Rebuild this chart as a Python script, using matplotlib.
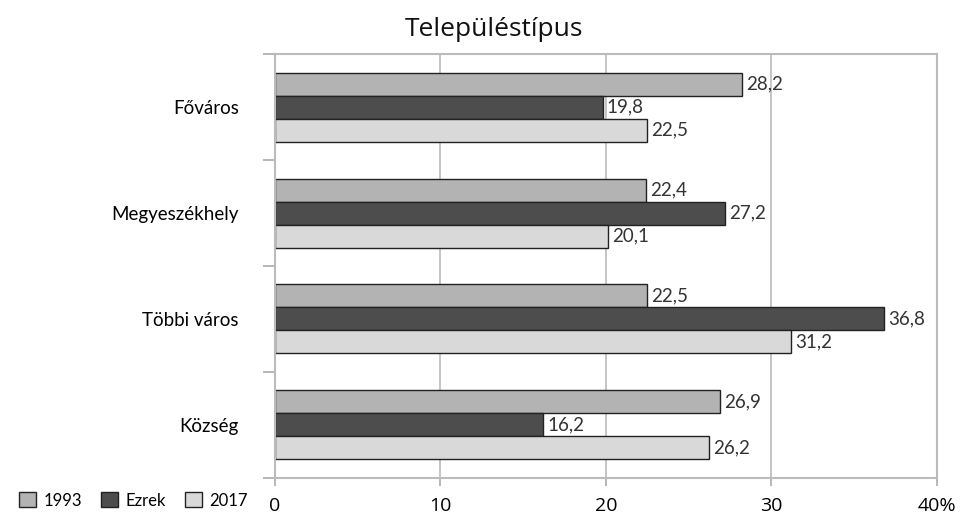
import matplotlib
matplotlib.use("Agg")
import matplotlib.pyplot as plt
import numpy as np
from matplotlib.patches import Patch

categories = ["Főváros", "Megyeszékhely", "Többi város", "Község"]
series_names = ["1993", "Ezrek", "2017"]
v1993 = [28.2, 22.4, 22.5, 26.9]
vezrek = [19.8, 27.2, 36.8, 16.2]
v2017 = [22.5, 20.1, 31.2, 26.2]
xticks = [0, 10, 20, 30, 40]
xticklabels = ["0", "10", "20", "30", "40%"]
colors = ["#b3b3b3", "#4d4d4d", "#d9d9d9"]

plt.rcParams['font.family'] = ['Lato', 'DejaVu Sans']

fig = plt.figure(figsize=(9.68, 5.16), dpi=100)
ax = fig.add_axes([0.284, 0.074, 0.684, 0.821])

n = len(categories)
y = np.arange(n)
bh = 0.217
series = [v1993, vezrek, v2017]
for i, (vals, col, name) in enumerate(zip(series, colors, series_names)):
    pos = y + (i - 1) * bh
    bars = ax.barh(pos, vals, height=bh, color=col, edgecolor="#222222", linewidth=1.0, label=name)
    for b, v in zip(bars, vals):
        ax.text(b.get_width() + 0.25, b.get_y() + b.get_height() / 2,
                f"{v:.1f}".replace(".", ","), va="center", ha="left",
                fontsize=13.5, color="#333333")

ax.set_ylim(n - 0.5, -0.5)
ax.set_xlim(0, 40)
ax.set_yticks(np.arange(-0.5, n, 1.0), minor=False)
ax.set_yticklabels([])
ax.set_yticks(y, minor=True)
ax.set_yticklabels(categories, minor=True, fontsize=13.5)
ax.tick_params(axis="y", which="minor", length=0, pad=26)
ax.tick_params(axis="y", which="major", length=9, color="#aaaaaa", width=1.2)
ax.set_xticks(xticks)
ax.set_xticklabels(xticklabels, fontsize=14, fontfamily=["Open Sans", "DejaVu Sans"])
ax.tick_params(axis="x", length=6, color="#aaaaaa", width=1.2, pad=8)
ax.xaxis.grid(True, color="#bbbbbb", linewidth=1.2)
ax.set_axisbelow(True)
for s in ["top", "right", "bottom", "left"]:
    ax.spines[s].set_color("#bbbbbb")
    ax.spines[s].set_linewidth(1.5)

fig.text(0.51, 0.942, "Településtípus", ha="center", va="center", fontsize=19,
         fontfamily=["Open Sans", "DejaVu Sans"], color="#111111")

handles = [Patch(facecolor=c, edgecolor="#222222", linewidth=1.0) for c in colors]
fig.legend(handles, series_names, loc="center left", bbox_to_anchor=(0.02, 0.03),
           ncol=3, frameon=False, fontsize=12, handlelength=1.0, handleheight=1.0,
           handletextpad=0.45, columnspacing=1.15, borderpad=0, borderaxespad=0)

fig.savefig("out.png", dpi=100)
